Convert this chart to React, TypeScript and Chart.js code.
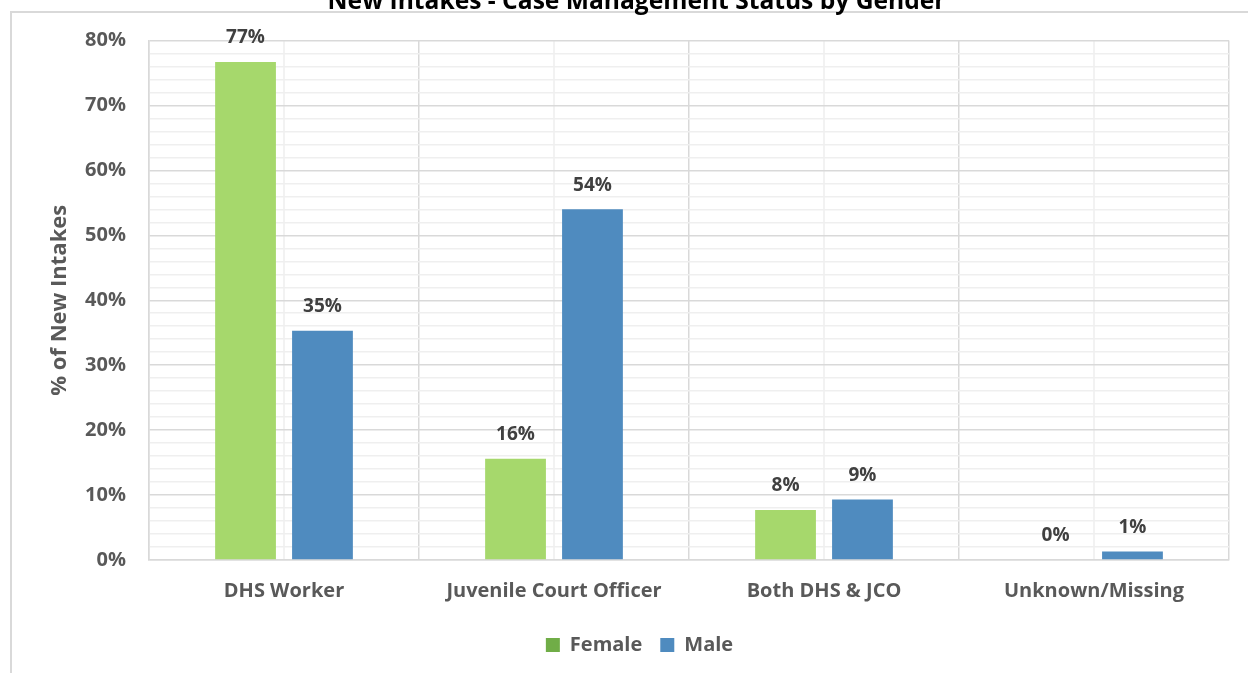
import React, { useEffect, useRef } from "react";
import { Chart, registerables } from "chart.js";

Chart.register(...registerables);

const chartTitle = "New Intakes - Case Management Status by Gender";
const categories = ["DHS Worker", "Juvenile Court Officer", "Both DHS & JCO", "Unknown/Missing"];
const seriesNames = ["Female", "Male"];
const femaleValues = [76.7, 15.6, 7.7, 0];
const maleValues = [35.3, 54.0, 9.3, 1.3];
const barColors = ["#A6D86C", "#4F8BBF"];
const legendColors = ["#70AD47", "#4F8BBF"];
const yAxisTitle = "% of New Intakes";

const FONT = "'Open Sans', Lato, sans-serif";

const centerLinesPlugin = {
  id: "centerLines",
  beforeDraw(chart: any) {
    const { ctx, chartArea } = chart;
    const x = chart.scales.x;
    ctx.save();
    ctx.strokeStyle = "#eeeeee";
    ctx.lineWidth = 1.5;
    categories.forEach((_, i) => {
      const px = x.getPixelForValue(i);
      ctx.beginPath();
      ctx.moveTo(px, chartArea.top);
      ctx.lineTo(px, chartArea.bottom);
      ctx.stroke();
    });
    ctx.restore();
  },
};

const shiftBoxesPlugin = {
  id: "shiftBoxes",
  afterLayout(chart: any) {
    if (chart.legend) {
      chart.legend.left += 25;
      chart.legend.right += 25;
    }
    if (chart.titleBlock) {
      chart.titleBlock.left += 22;
      chart.titleBlock.right += 22;
    }
  },
};

const valueLabelsPlugin = {
  id: "valueLabels",
  afterDatasetsDraw(chart: any) {
    const { ctx } = chart;
    ctx.save();
    ctx.font = `bold 19px ${FONT}`;
    ctx.fillStyle = "#404040";
    ctx.textAlign = "center";
    ctx.textBaseline = "middle";
    chart.data.datasets.forEach((ds: any, i: number) => {
      const meta = chart.getDatasetMeta(i);
      meta.data.forEach((bar: any, j: number) => {
        ctx.fillText(Math.round(ds.data[j]) + "%", bar.x, bar.y - 24);
      });
    });
    ctx.restore();
  },
};

export default function App() {
  const canvasRef = useRef<HTMLCanvasElement | null>(null);

  useEffect(() => {
    if (!canvasRef.current) return;
    const chart = new Chart(canvasRef.current, {
      type: "bar",
      data: {
        labels: categories,
        datasets: [
          {
            label: seriesNames[0],
            data: femaleValues,
            backgroundColor: barColors[0],
            categoryPercentage: 0.57,
            barPercentage: 0.79,
          },
          {
            label: seriesNames[1],
            data: maleValues,
            backgroundColor: barColors[1],
            categoryPercentage: 0.57,
            barPercentage: 0.79,
          },
        ],
      },
      options: {
        responsive: false,
        maintainAspectRatio: false,
        animation: false,
        layout: { padding: { left: 0, right: 19, top: 0, bottom: 8 } },
        plugins: {
          title: {
            display: true,
            text: chartTitle,
            color: "#000000",
            font: { family: FONT, size: 24.6, weight: "bold" },
            padding: { top: 7, bottom: 24 },
          },
          legend: {
            display: true,
            position: "bottom",
            labels: {
              color: "#595959",
              font: { family: FONT, size: 20, weight: "bold" },
              boxWidth: 14,
              boxHeight: 14,
              padding: 18,
              generateLabels: (chart: any) =>
                chart.data.datasets.map((ds: any, i: number) => ({
                  text: ds.label,
                  fillStyle: legendColors[i],
                  strokeStyle: legendColors[i],
                  lineWidth: 0,
                  hidden: false,
                  datasetIndex: i,
                  fontColor: "#595959",
                })),
            },
          },
          tooltip: { enabled: false },
        },
        scales: {
          x: {
            grid: {
              offset: true,
              color: "#d9d9d9",
              lineWidth: 1.5,
              drawTicks: false,
            },
            border: { color: "#d9d9d9", width: 1.5 },
            ticks: {
              color: "#595959",
              font: { family: FONT, size: 20, weight: "bold" },
              padding: 19,
              maxRotation: 0,
            },
            afterFit: (scale: any) => {
              scale.height = 57;
            },
          },
          y: {
            min: 0,
            max: 80,
            grid: {
              color: (c: any) => (c.tick && c.tick.value % 10 === 0 ? "#d9d9d9" : "#efefef"),
              lineWidth: 1.5,
              drawTicks: false,
            },
            border: { color: "#d9d9d9", width: 1.5 },
            ticks: {
              stepSize: 2,
              autoSkip: false,
              color: "#595959",
              font: { family: FONT, size: 20, weight: "bold" },
              padding: 23,
              callback: (v: any) => (Number(v) % 10 === 0 ? v + "%" : ""),
            },
            title: {
              display: true,
              text: yAxisTitle,
              color: "#595959",
              font: { family: FONT, size: 22, weight: "bold" },
              padding: { top: 47, bottom: 0 },
            },
            afterFit: (scale: any) => {
              scale.width = 149;
            },
          },
        },
      },
      plugins: [centerLinesPlugin, shiftBoxesPlugin, valueLabelsPlugin],
    });
    return () => chart.destroy();
  }, []);

  return (
    <div
      style={{
        position: "fixed",
        left: 0,
        top: 0,
        width: 1248,
        height: 673,
        overflow: "hidden",
        background: "#ffffff",
      }}
    >
      <div
        style={{
          position: "absolute",
          left: 10,
          top: 11,
          width: 1300,
          height: 700,
          borderLeft: "2px solid #d9d9d9",
          borderTop: "2px solid #d9d9d9",
        }}
      />
      <canvas
        ref={canvasRef}
        width={1248}
        height={693}
        style={{ position: "absolute", left: 0, top: -20, width: 1248, height: 693 }}
      />
    </div>
  );
}
